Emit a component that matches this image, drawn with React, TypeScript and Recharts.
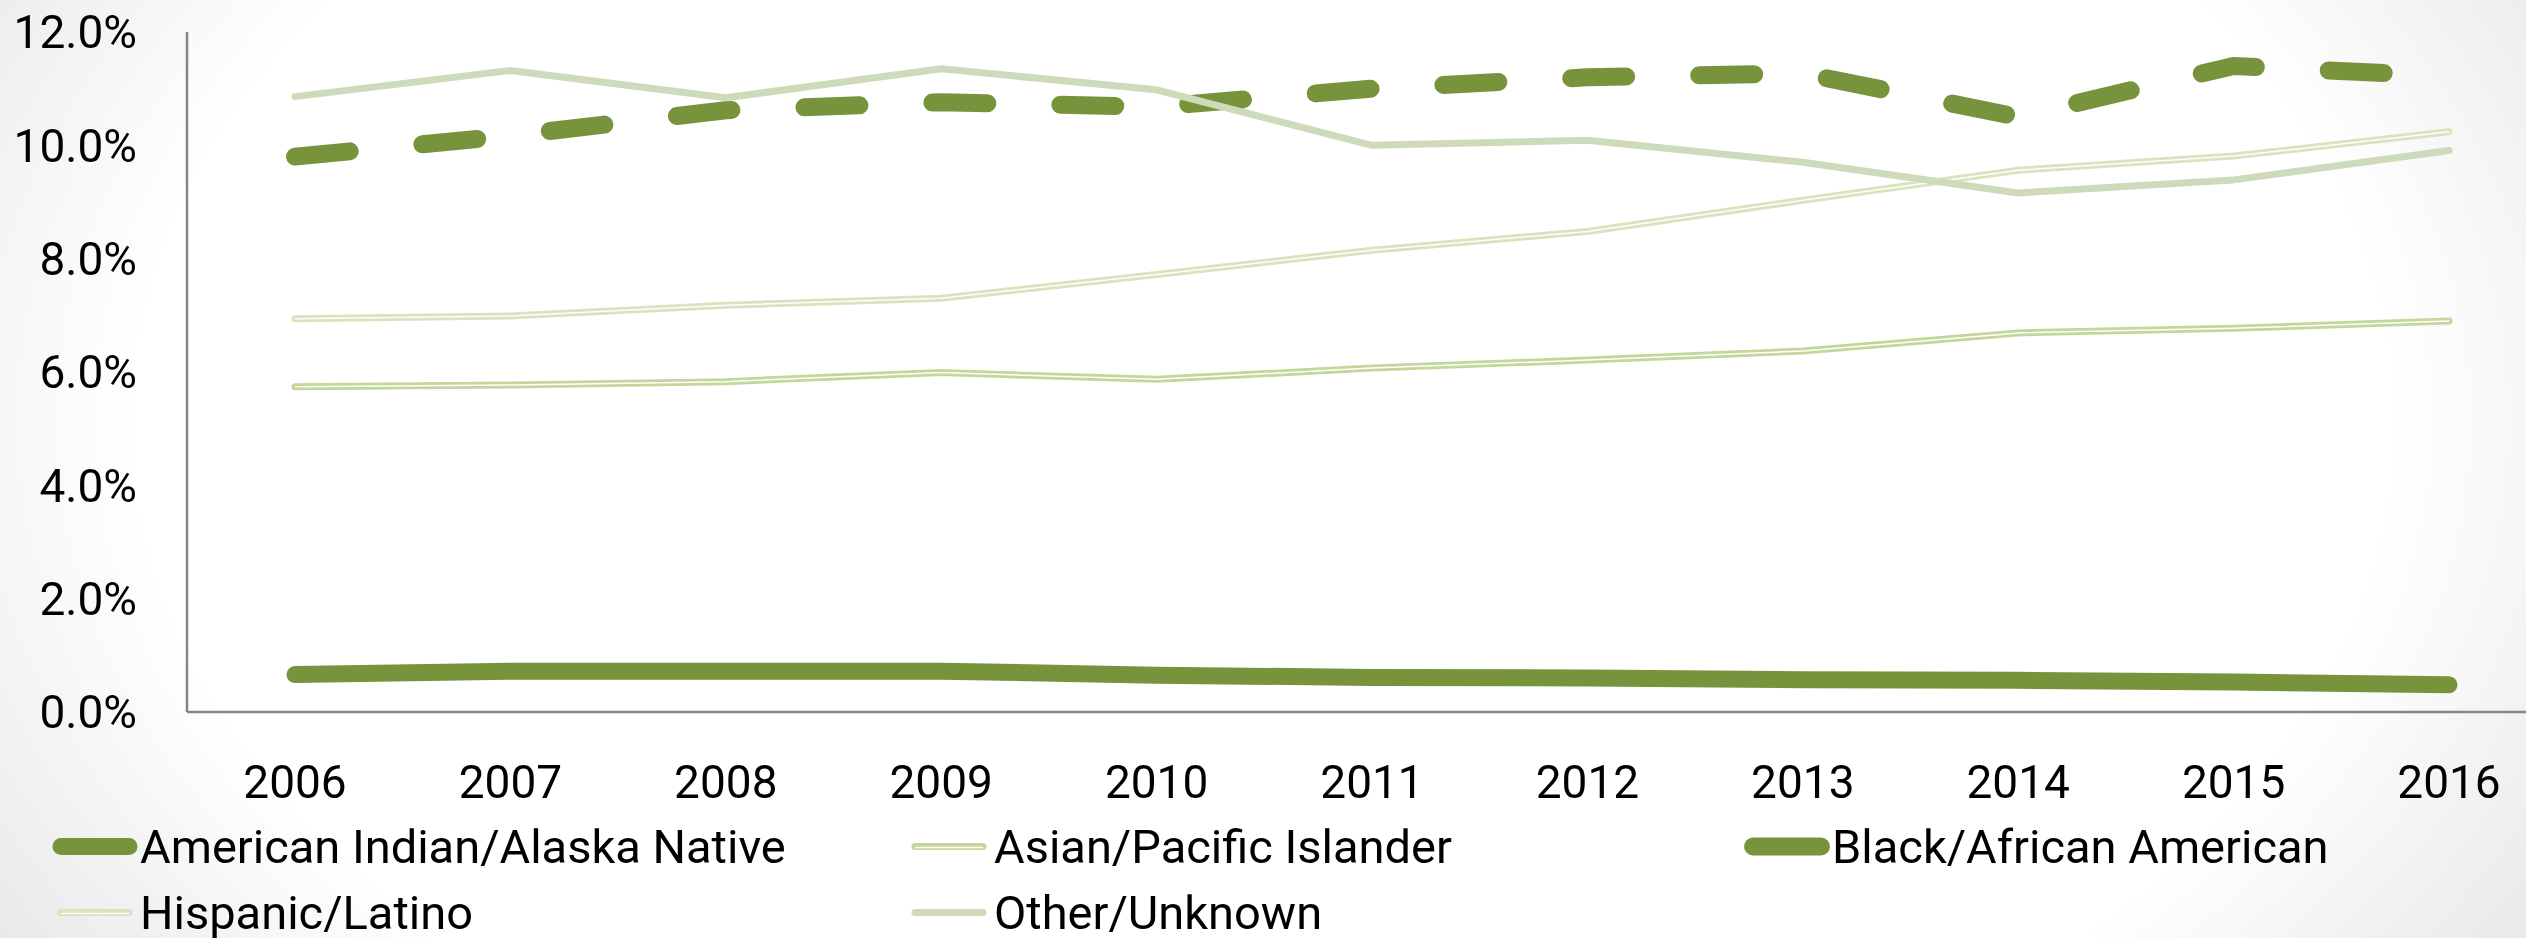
import * as React from "react";
import { LineChart, Line, XAxis, YAxis } from "recharts";

const years = ["2006", "2007", "2008", "2009", "2010", "2011", "2012", "2013", "2014", "2015", "2016"];
const americanIndian = [0.66, 0.72, 0.72, 0.72, 0.65, 0.61, 0.6, 0.57, 0.56, 0.53, 0.48];
const asianPacific = [5.74, 5.77, 5.83, 5.99, 5.87, 6.07, 6.21, 6.37, 6.69, 6.77, 6.9];
const blackAfrican = [9.8, 10.17, 10.62, 10.76, 10.68, 11.0, 11.2, 11.27, 10.5, 11.4, 11.22];
const hispanicLatino = [6.94, 6.99, 7.18, 7.3, 7.72, 8.15, 8.48, 9.03, 9.56, 9.81, 10.24];
const otherUnknown = [10.86, 11.32, 10.84, 11.35, 10.98, 10.0, 10.09, 9.7, 9.16, 9.39, 9.91];
const yTicks = [0, 2, 4, 6, 8, 10, 12];

const FONT = "Roboto, 'Liberation Sans', sans-serif";

type Series = {
  key: string;
  name: string;
  color: string;
  width: number;
  dash?: string;
  double?: boolean;
};

const series: Series[] = [
  { key: "ai", name: "American Indian/Alaska Native", color: "#77933C", width: 17 },
  { key: "as", name: "Asian/Pacific Islander", color: "#C3D69B", width: 7, double: true },
  { key: "bl", name: "Black/African American", color: "#77933C", width: 18, dash: "55 73" },
  { key: "hi", name: "Hispanic/Latino", color: "#D7E4BD", width: 7, double: true },
  { key: "ot", name: "Other/Unknown", color: "#CDDBBB", width: 7 },
];

const data = years.map((year, i) => ({
  year,
  ai: americanIndian[i],
  as: asianPacific[i],
  bl: blackAfrican[i],
  hi: hispanicLatino[i],
  ot: otherUnknown[i],
}));

// legend slots: [left, top] of each entry (3 columns, 2 rows)
const legendSlots = [
  [52, 846],
  [906, 846],
  [1744, 846],
  [52, 912],
  [906, 912],
];

function LegendIcon({ s }: { s: Series }) {
  const w = 86;
  return (
    <svg width={w} height={24} style={{ display: "block" }}>
      <line x1={9} y1={12} x2={w - 9} y2={12} stroke={s.color} strokeWidth={s.width} strokeLinecap="round" />
      {s.double && <line x1={9} y1={13} x2={w - 9} y2={13} stroke="#fff" strokeWidth={1.5} />}
    </svg>
  );
}

export default function App() {
  return (
    <div
      style={{
        position: "fixed",
        left: 0,
        top: 0,
        width: 2526,
        height: 938,
        overflow: "hidden",
        background: "radial-gradient(ellipse 62% 110% at 50% 45%, #ffffff 72%, #e4e4e4 100%)",
        fontFamily: FONT,
      }}
    >
      <LineChart width={2560} height={938} data={data} margin={{ top: 32, right: 3, left: 0, bottom: 166 }}>
        <XAxis
          dataKey="year"
          padding={{ left: 108, right: 108 }}
          height={60}
          tickSize={0}
          tickMargin={53}
          axisLine={{ stroke: "#868686", strokeWidth: 2.5 }}
          tick={{ fill: "#000", fontSize: 46, fontFamily: FONT }}
        />
        <YAxis
          width={187}
          domain={[0, 12]}
          ticks={yTicks}
          tickFormatter={(v: number) => v.toFixed(1) + "%"}
          tickSize={0}
          tickMargin={50}
          axisLine={{ stroke: "#868686", strokeWidth: 2.5 }}
          tick={{ fill: "#000", fontSize: 46, fontFamily: FONT }}
        />
        {series.map((s) => [
          <Line
            key={s.key}
            dataKey={s.key}
            name={s.name}
            stroke={s.color}
            strokeWidth={s.width}
            strokeDasharray={s.dash}
            strokeLinecap="round"
            strokeLinejoin="round"
            dot={false}
            activeDot={false}
            isAnimationActive={false}
          />,
          s.double ? (
            <Line
              key={s.key + "-inner"}
              dataKey={s.key}
              stroke="#ffffff"
              strokeWidth={1.5}
              dot={false}
              activeDot={false}
              legendType="none"
              isAnimationActive={false}
            />
          ) : null,
        ])}
      </LineChart>
      {series.map((s, i) => (
        <div
          key={s.key}
          style={{
            position: "absolute",
            left: legendSlots[i][0],
            top: legendSlots[i][1],
            transform: "translateY(-50%)",
            display: "flex",
            alignItems: "center",
            fontSize: 47,
            color: "#000",
            whiteSpace: "nowrap",
            lineHeight: 1,
          }}
        >
          <LegendIcon s={s} />
          <span style={{ marginLeft: 2 }}>{s.name}</span>
        </div>
      ))}
    </div>
  );
}
